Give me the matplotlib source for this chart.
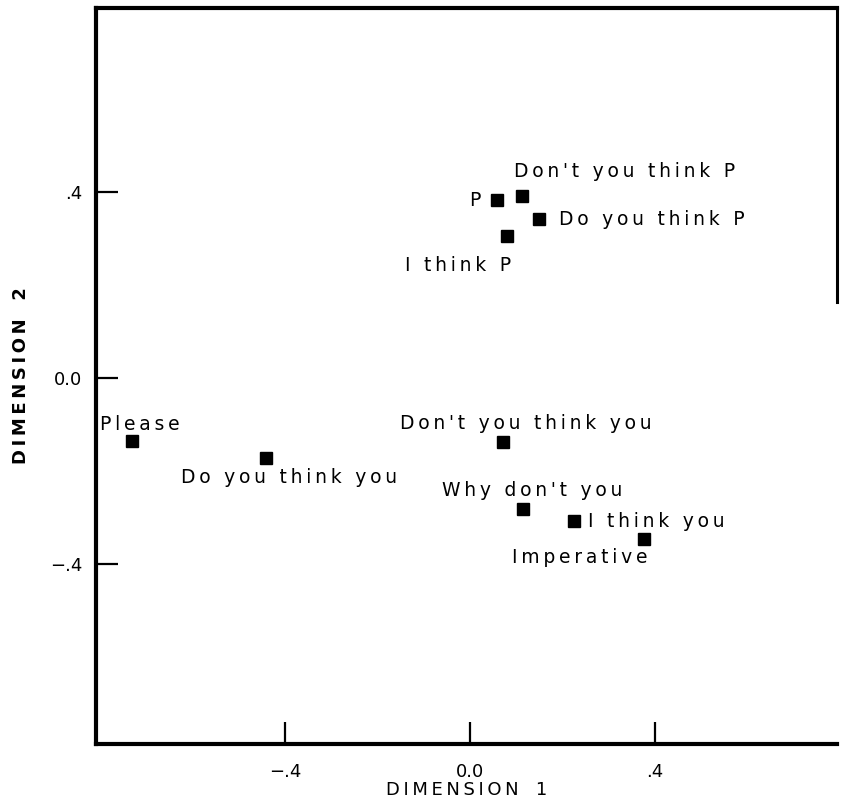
import matplotlib
matplotlib.use('Agg')
import matplotlib.pyplot as plt

plt.rcParams['font.family'] = ['DejaVu Sans']

# 数据：刺激语句及其在二维空间中的坐标
labels = ["P", "Don't you think P", "Do you think P", "I think P",
          "Please", "Do you think you", "Don't you think you",
          "Why don't you", "I think you", "Imperative"]
dim1 = [0.058, 0.112, 0.149, 0.080, -0.731, -0.441, 0.071, 0.115, 0.225, 0.376]
dim2 = [0.383, 0.391, 0.342, 0.305, -0.135, -0.172, -0.138, -0.282, -0.308, -0.346]

tick_vals = [-0.4, 0.0, 0.4]
tick_text = ['\u2212.4', '0.0', '.4']

# 标签相对点的偏移 (像素) 和对齐方式
offsets = [(-16, 0, 'right'), (-8, 25, 'left'), (20, 0, 'left'), (4, -29, 'right'),
           (-32, 16, 'left'), (-85, -19, 'left'), (-103, 19, 'left'),
           (-81, 19, 'left'), (14, 0, 'left'), (-132, -19, 'left')]


def spaced(s):
    # 原图字距很宽，用细空格模拟
    return '\u2009'.join(s)


fig = plt.figure(figsize=(8.43, 8.01), dpi=100)
ax = fig.add_axes([96 / 843, (801 - 744) / 801, (837 - 96) / 843, (744 - 8) / 801])

ax.plot(dim1, dim2, 's', color='black', markersize=8.5, linestyle='none')

for lab, x, y, (dx, dy, ha) in zip(labels, dim1, dim2, offsets):
    ax.annotate(spaced(lab), (x, y), xytext=(dx * 0.72, dy * 0.72), textcoords='offset points',
                ha=ha, va='center', fontsize=13.5)

ax.set_xlim(-0.809, 0.794)
ax.set_ylim(-0.787, 0.796)

ax.set_xticks(tick_vals)
ax.set_xticklabels(tick_text)
ax.set_yticks(tick_vals)
ax.set_yticklabels(tick_text)
ax.tick_params(direction='in', length=16, width=1.6, labelsize=13)
ax.tick_params(axis='x', pad=14)
ax.tick_params(axis='y', pad=10)

for s in ['left', 'top', 'bottom']:
    ax.spines[s].set_linewidth(3)
ax.spines['right'].set_linewidth(2.2)
# 右边框只画上半部分
ax.spines['right'].set_bounds(0.163, 0.796)

ax.set_xlabel(spaced('DIMENSION') + '   1', fontsize=13, labelpad=0)
ax.set_ylabel(spaced('DIMENSION') + '   2', fontsize=13, labelpad=14, fontweight='bold')

fig.savefig('out.png', dpi=100)
